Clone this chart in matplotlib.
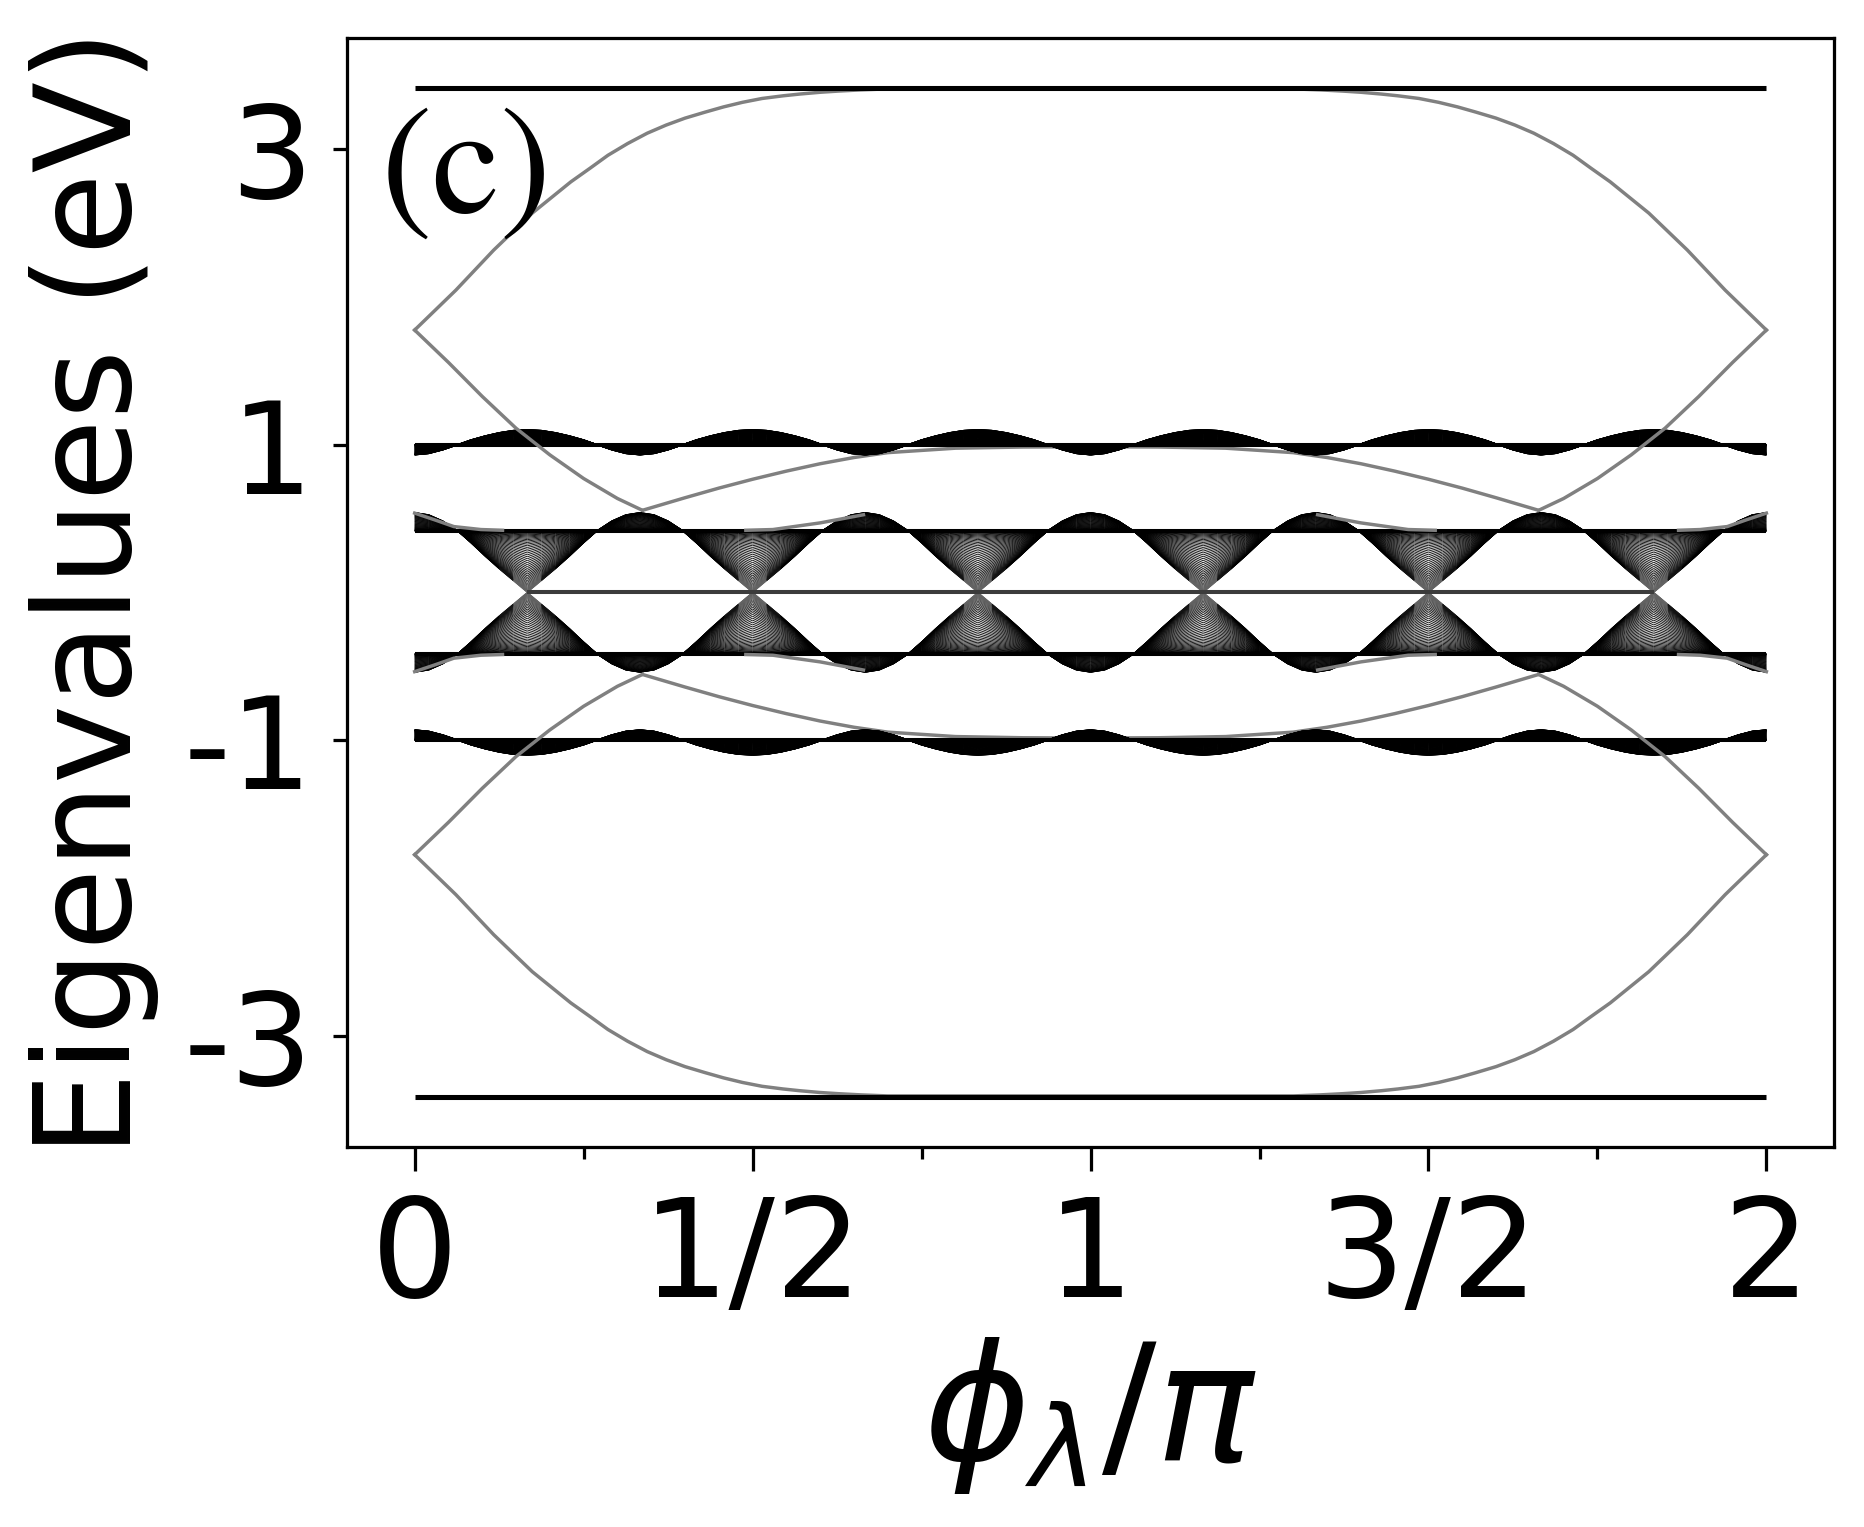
import numpy as np
import matplotlib
matplotlib.use('Agg')
import matplotlib.pyplot as plt
from matplotlib.collections import LineCollection

# phase phi_lambda / pi, read every 1/48
phi = np.linspace(0, 2, 97)

# flat levels of the bands (eV), upper half; lower half is the mirror image
outer_level = 3.41
band1_level = 1.0
band2_level = 0.415

# oscillating edge of the band around +1 eV
band1_edge = [
    0.930, 0.939, 0.964, 0.997, 1.031, 1.058, 1.080, 1.095, 1.100, 1.095, 1.080, 1.058, 1.031, 0.997, 0.964, 0.939,
    0.930, 0.939, 0.964, 0.997, 1.031, 1.058, 1.080, 1.095, 1.100, 1.095, 1.080, 1.058, 1.031, 0.997, 0.964, 0.939,
    0.930, 0.939, 0.964, 0.997, 1.031, 1.058, 1.080, 1.095, 1.100, 1.095, 1.080, 1.058, 1.031, 0.997, 0.964, 0.939,
    0.930, 0.939, 0.964, 0.997, 1.031, 1.058, 1.080, 1.095, 1.100, 1.095, 1.080, 1.058, 1.031, 0.997, 0.964, 0.939,
    0.930, 0.939, 0.964, 0.997, 1.031, 1.058, 1.080, 1.095, 1.100, 1.095, 1.080, 1.058, 1.031, 0.997, 0.964, 0.939,
    0.930, 0.939, 0.964, 0.997, 1.031, 1.058, 1.080, 1.095, 1.100, 1.095, 1.080, 1.058, 1.031, 0.997, 0.964, 0.939,
    0.930]

# oscillating edge of the band around +0.4 eV (bumps and fans down to 0)
band2_edge = [
    0.540, 0.525, 0.483, 0.420, 0.335, 0.245, 0.160, 0.080, 0.000, 0.080, 0.160, 0.245, 0.335, 0.420, 0.483, 0.525,
    0.540, 0.525, 0.483, 0.420, 0.335, 0.245, 0.160, 0.080, 0.000, 0.080, 0.160, 0.245, 0.335, 0.420, 0.483, 0.525,
    0.540, 0.525, 0.483, 0.420, 0.335, 0.245, 0.160, 0.080, 0.000, 0.080, 0.160, 0.245, 0.335, 0.420, 0.483, 0.525,
    0.540, 0.525, 0.483, 0.420, 0.335, 0.245, 0.160, 0.080, 0.000, 0.080, 0.160, 0.245, 0.335, 0.420, 0.483, 0.525,
    0.540, 0.525, 0.483, 0.420, 0.335, 0.245, 0.160, 0.080, 0.000, 0.080, 0.160, 0.245, 0.335, 0.420, 0.483, 0.525,
    0.540, 0.525, 0.483, 0.420, 0.335, 0.245, 0.160, 0.080, 0.000, 0.080, 0.160, 0.245, 0.335, 0.420, 0.483, 0.525,
    0.540]

# zero-energy states between the fan tips
zero_x = [1 / 6, 11 / 6]

# edge states (gray), upper half
outer_x = [0.0, 0.061, 0.117, 0.174, 0.231, 0.260, 0.286, 0.315, 0.344, 0.372, 0.400, 0.430, 0.457,
           0.485, 0.514, 0.545, 0.570, 0.600, 0.627, 0.660, 0.700,
           1.300, 1.340, 1.373, 1.400, 1.430, 1.455, 1.486, 1.515, 1.543, 1.570, 1.600, 1.628, 1.656,
           1.685, 1.714, 1.740, 1.769, 1.826, 1.883, 1.939, 2.0]
outer_y = [1.774, 2.044, 2.315, 2.565, 2.776, 2.870, 2.956, 3.035, 3.105, 3.160, 3.207, 3.248, 3.283,
           3.314, 3.340, 3.358, 3.370, 3.382, 3.390, 3.398, 3.405,
           3.405, 3.398, 3.390, 3.382, 3.370, 3.358, 3.340, 3.314, 3.283, 3.248, 3.207, 3.160, 3.105,
           3.035, 2.956, 2.870, 2.776, 2.565, 2.315, 2.044, 1.774]

left_x = [0.0, 0.05, 0.10, 0.15, 0.20, 0.25, 0.30, 0.337]
left_y = [1.774, 1.555, 1.325, 1.110, 0.930, 0.770, 0.635, 0.555]
right_x = [1.663, 1.70, 1.75, 1.80, 1.85, 1.90, 1.95, 2.0]
right_y = [0.555, 0.635, 0.770, 0.930, 1.110, 1.325, 1.555, 1.774]

mid_x = [0.337, 0.40, 0.45, 0.50, 0.55, 0.60, 0.65, 0.70, 0.80, 0.90, 1.00,
         1.10, 1.20, 1.30, 1.35, 1.40, 1.45, 1.50, 1.55, 1.60, 1.663]
mid_y = [0.555, 0.640, 0.705, 0.765, 0.820, 0.870, 0.912, 0.945, 0.975, 0.983, 0.985,
         0.983, 0.975, 0.945, 0.912, 0.870, 0.820, 0.765, 0.705, 0.640, 0.555]

# short edge states hugging the bumps of the 0.4 eV band
hug_x = [[0.0, 0.03, 0.058, 0.098, 0.13],
         [0.49, 0.53, 0.60, 0.635, 0.664],
         [1.336, 1.365, 1.40, 1.47, 1.51],
         [1.87, 1.902, 1.942, 1.97, 2.0]]
hug_y = [[0.536, 0.490, 0.445, 0.425, 0.420],
         [0.420, 0.425, 0.470, 0.500, 0.525],
         [0.525, 0.500, 0.470, 0.425, 0.420],
         [0.420, 0.425, 0.445, 0.490, 0.536]]

xtick_pos = [0, 0.5, 1, 1.5, 2]
xtick_lab = ['0', '1/2', '1', '3/2', '2']
xminor_pos = [0.25, 0.75, 1.25, 1.75]
ytick_pos = [-3, -1, 1, 3]
ytick_lab = ['-3', '-1', '1', '3']

edge_gray = '#808080'


def draw_band(ax, level, edge, sign, n=50, lw=0.24, alpha=0.9, gray_tip=False):
    edge = np.asarray(edge)
    frac = (1 - np.cos(np.linspace(0, np.pi, n))) / 2
    segs, cols = [], []
    for f in frac:
        y = sign * (level + f * (edge - level))
        pts = np.column_stack([phi, y])
        for a, b in zip(pts[:-1], pts[1:]):
            segs.append([a, b])
            ym = abs(a[1] + b[1]) / 2
            g = 0.55 * np.clip(1 - ym / 0.14, 0, 1) if gray_tip else 0.0
            cols.append((g, g, g, alpha))
    ax.add_collection(LineCollection(segs, colors=cols, linewidths=lw, zorder=2))
    ax.hlines(sign * level, phi[0], phi[-1], colors='black', linewidth=1.0, zorder=2)


fig = plt.figure(figsize=(6.4, 5.243), dpi=291.25)
ax = fig.add_axes([0.1862, 0.2489, 0.7977, 0.7263])

for s in (1, -1):
    ax.hlines(s * outer_level, phi[0], phi[-1], colors='black', linewidth=1.25, zorder=2)
    draw_band(ax, band1_level, band1_edge, s, n=50, lw=0.3, alpha=1.0)
    draw_band(ax, band2_level, band2_edge, s, gray_tip=True)

    ax.plot(mid_x, s * np.array(mid_y), color=edge_gray, lw=0.85, zorder=1)
    ax.plot(outer_x, s * np.array(outer_y), color=edge_gray, lw=0.85, zorder=1.5)
    ax.plot(left_x, s * np.array(left_y), color=edge_gray, lw=0.85, zorder=4)
    ax.plot(right_x, s * np.array(right_y), color=edge_gray, lw=0.85, zorder=4)
    for hx, hy in zip(hug_x, hug_y):
        ax.plot(hx, s * np.array(hy), color=edge_gray, lw=0.85, zorder=4)

ax.hlines(0, zero_x[0], zero_x[1], colors='#3c3c3c', linewidth=1.0, zorder=3)

ax.set_xlim(-0.1, 2.1)
ax.set_ylim(-3.75, 3.75)

ax.set_xticks(xtick_pos)
ax.set_xticklabels(xtick_lab)
ax.set_xticks(xminor_pos, minor=True)
ax.set_yticks(ytick_pos)
ax.set_yticklabels(ytick_lab)
ax.tick_params(axis='x', which='major', length=6, width=0.8, labelsize=34, pad=5.5)
ax.tick_params(axis='x', which='minor', length=3, width=0.8)
ax.tick_params(axis='y', which='major', length=3.5, width=0.8, labelsize=32, pad=5)

ax.set_xlabel(r'$\phi_\lambda/\pi$', fontsize=40, labelpad=2)
ax.set_ylabel('Eigenvalues (eV)', fontsize=33, labelpad=6)

ax.text(0.022, 0.949, r'$\mathrm{(c)}$', transform=ax.transAxes, va='top', ha='left',
        fontsize=38, math_fontfamily='stix')

fig.savefig('out.png', dpi=291.25)
